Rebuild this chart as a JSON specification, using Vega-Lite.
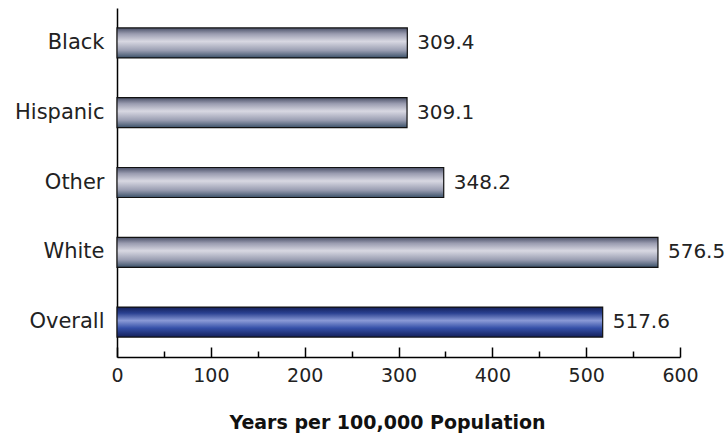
{
  "$schema": "https://vega.github.io/schema/vega-lite/v6.json",
  "autosize": "none",
  "width": 563,
  "height": 349,
  "padding": {"left": 117, "top": 8, "right": 47, "bottom": 82},
  "background": "white",
  "config": {"view": {"stroke": null}, "font": "DejaVu Sans"},
  "data": {"values": [
    {"group": "Black", "value": 309.4, "overall": false},
    {"group": "Hispanic", "value": 309.1, "overall": false},
    {"group": "Other", "value": 348.2, "overall": false},
    {"group": "White", "value": 576.5, "overall": false},
    {"group": "Overall", "value": 517.6, "overall": true}
  ]},
  "encoding": {
    "y": {"field": "group", "type": "nominal", "sort": null,
      "scale": {"paddingInner": 0.57, "paddingOuter": 0.285},
      "axis": {"title": null, "ticks": false, "labelPadding": 13, "labelFontSize": 21, "labelColor": "#222222", "labelFont": "DejaVu Sans", "domainColor": "#000000", "domainWidth": 1.5}},
    "x": {"field": "value", "type": "quantitative", "scale": {"domain": [0, 600], "nice": false}}
  },
  "layer": [
    {
      "mark": {"type": "bar", "stroke": "#111111", "strokeWidth": 1.2},
      "encoding": {
        "x": {"field": "value", "type": "quantitative", "scale": {"domain": [0, 600], "nice": false},
          "axis": {"orient": "bottom", "title": "Years per 100,000 Population", "values": [0, 100, 200, 300, 400, 500, 600], "grid": false,
            "tickSize": -10, "tickColor": "#000000", "tickWidth": 1.5, "domainColor": "#000000", "domainWidth": 1.5,
            "labelPadding": 19, "labelFontSize": 19, "labelColor": "#222222", "labelFont": "DejaVu Sans", "labelFlush": false,
            "titleFontSize": 19, "titleFontWeight": "bold", "titleColor": "#111111", "titleFont": "DejaVu Sans", "titlePadding": 28, "titleX": 270}},
        "color": {
          "condition": {"test": "datum.overall",
            "value": {"gradient": "linear", "x1": 0, "y1": 0, "x2": 0, "y2": 1,
              "stops": [{"offset": 0, "color": "#14205a"}, {"offset": 0.2, "color": "#2a4090"}, {"offset": 0.45, "color": "#8a9ad6"}, {"offset": 0.7, "color": "#3550a8"}, {"offset": 1, "color": "#14205a"}]}},
          "value": {"gradient": "linear", "x1": 0, "y1": 0, "x2": 0, "y2": 1,
            "stops": [{"offset": 0, "color": "#4a5068"}, {"offset": 0.2, "color": "#9a9cb0"}, {"offset": 0.45, "color": "#d8d8e2"}, {"offset": 0.75, "color": "#9a9eb2"}, {"offset": 1, "color": "#3a5068"}]}
        }
      }
    },
    {
      "mark": {"type": "text", "align": "left", "dx": 10, "fontSize": 20, "color": "#222222", "font": "DejaVu Sans"},
      "encoding": {
        "x": {"field": "value", "type": "quantitative", "scale": {"domain": [0, 600], "nice": false},
          "axis": {"orient": "bottom", "title": null, "values": [50, 150, 250, 350, 450, 550], "labels": false, "domain": false, "grid": false,
            "tickSize": -6, "tickColor": "#000000", "tickWidth": 1.5}},
        "text": {"field": "value", "type": "quantitative", "format": ".1f"}
      }
    }
  ],
  "resolve": {"axis": {"x": "independent"}}
}
